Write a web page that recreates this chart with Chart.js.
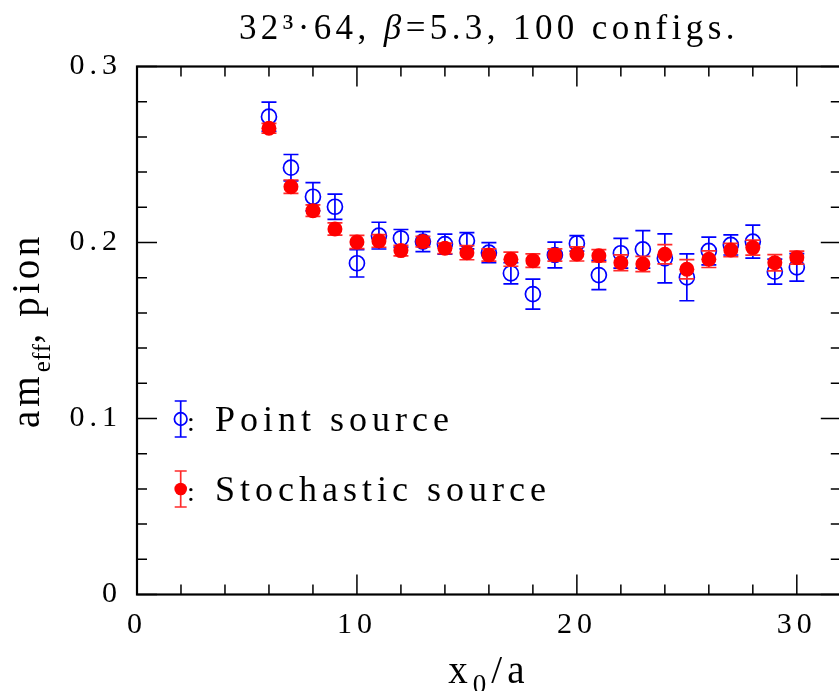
<!DOCTYPE html>
<html><head><meta charset="utf-8">
<script src="https://cdn.jsdelivr.net/npm/chart.js@4"></script>
<style>
html,body{margin:0;padding:0;overflow:hidden;background:#fff;}
#wrap{width:850px;height:691px;position:relative;}
</style>
</head><body>
<div id="wrap"><canvas id="c" width="850" height="691"></canvas></div>
<script>
// ---- data ----
const xValues = [6,7,8,9,10,11,12,13,14,15,16,17,18,19,20,21,22,23,24,25,26,27,28,29,30];
const pointSource = [0.2715,0.2425,0.2260,0.2203,0.1882,0.2039,0.2024,0.2005,0.1991,0.2010,0.1942,0.1825,0.1707,0.1929,0.1995,0.1815,0.1939,0.1961,0.1910,0.1802,0.1952,0.1986,0.2005,0.1834,0.1859];
const pointSourceErr = [0.0083,0.0075,0.0080,0.0072,0.0078,0.0076,0.0050,0.0057,0.0057,0.0046,0.0057,0.0060,0.0085,0.0073,0.0044,0.0083,0.0085,0.0107,0.0139,0.0133,0.0079,0.0057,0.0094,0.0071,0.0078];
const stochSource = [0.2649,0.2317,0.2181,0.2077,0.2003,0.2009,0.1954,0.2005,0.1967,0.1942,0.1929,0.1905,0.1897,0.1929,0.1935,0.1925,0.1885,0.1878,0.1933,0.1848,0.1905,0.1957,0.1971,0.1885,0.1914];
const stochSourceErr = [0.0028,0.0038,0.0033,0.0035,0.0038,0.0036,0.0030,0.0030,0.0030,0.0040,0.0035,0.0040,0.0038,0.0035,0.0040,0.0035,0.0045,0.0043,0.0055,0.0055,0.0047,0.0038,0.0043,0.0046,0.0037];
const xTickLabels = [0,10,20,30];
const yTickLabels = [0,0.1,0.2,0.3];
const xMinorStep = 2, yMinorStep = 0.02;
const seriesNames = ['Point source','Stochastic source'];
const titleParts = [['32³·64, ','normal'],['β','italic'],['=5.3, 100 configs.','normal']];

const FONT = 'Liberation Serif';
const LS = '5px';

// ---- plugins ----
const spacingPlugin = {
  id:'spacing',
  beforeLayout(chart){ chart.ctx.letterSpacing = LS; },
  beforeDraw(chart){ chart.ctx.letterSpacing = LS; }
};

const errorBarPlugin = {
  id:'errorBars',
  beforeDatasetDraw(chart, args){
    const ds = chart.data.datasets[args.index];
    if (!ds.errors) return;
    const ctx = chart.ctx, xs = chart.scales.x, ys = chart.scales.y;
    ctx.save();
    ctx.strokeStyle = ds.errorColor;
    ctx.lineWidth = 1.7;
    ds.data.forEach((p, i) => {
      const x = xs.getPixelForValue(p.x);
      const yt = ys.getPixelForValue(p.y + ds.errors[i]);
      const yb = ys.getPixelForValue(p.y - ds.errors[i]);
      ctx.beginPath();
      ctx.moveTo(x, yt); ctx.lineTo(x, yb);
      ctx.moveTo(x - 7.5, yt); ctx.lineTo(x + 7.5, yt);
      ctx.moveTo(x - 7.5, yb); ctx.lineTo(x + 7.5, yb);
      ctx.stroke();
    });
    ctx.restore();
  }
};

const framePlugin = {
  id:'frame',
  beforeDatasetsDraw(chart){
    const ctx = chart.ctx, a = chart.chartArea, xs = chart.scales.x, ys = chart.scales.y;
    ctx.save();
    ctx.strokeStyle = '#000';
    ctx.lineWidth = 1.5;
    ctx.beginPath();
    for (let v = xs.min; v <= xs.max + 1e-9; v += xMinorStep) {
      const px = xs.getPixelForValue(v);
      const major = Math.abs(v % 10) < 1e-9;
      const len = major ? 20 : 10;
      ctx.moveTo(px, a.bottom); ctx.lineTo(px, a.bottom - len);
      ctx.moveTo(px, a.top); ctx.lineTo(px, a.top + len);
    }
    for (let k = 0; k <= Math.round((ys.max - ys.min) / yMinorStep); k++) {
      const v = ys.min + k * yMinorStep;
      const py = ys.getPixelForValue(v);
      const major = k % 5 === 0;
      const len = major ? 20 : 10;
      ctx.moveTo(a.left, py); ctx.lineTo(a.left + len, py);
      ctx.moveTo(a.right, py); ctx.lineTo(a.right - len, py);
    }
    ctx.stroke();
    ctx.lineWidth = 2.2;
    ctx.strokeRect(a.left, a.top, a.right - a.left, a.bottom - a.top);
    ctx.restore();
  }
};

// runs: [text, font, dy, letterSpacing]
function drawRuns(ctx, runs, x, y) {
  let cx = x;
  runs.forEach(r => {
    ctx.font = r[1];
    ctx.letterSpacing = r[3];
    ctx.fillText(r[0], cx, y + (r[2] || 0));
    cx += ctx.measureText(r[0]).width;
  });
  return cx;
}
function runsWidth(ctx, runs) {
  let w = 0;
  runs.forEach(r => { ctx.font = r[1]; ctx.letterSpacing = r[3]; w += ctx.measureText(r[0]).width; });
  return w;
}

const textPlugin = {
  id:'texts',
  afterDraw(chart){
    const ctx = chart.ctx, a = chart.chartArea;
    const cx = (a.left + a.right) / 2;
    ctx.save();
    ctx.fillStyle = '#000';
    ctx.textBaseline = 'alphabetic';
    ctx.textAlign = 'left';

    // title
    const tRuns = titleParts.map(p => [p[0], (p[1] === 'italic' ? 'italic ' : '') + '35px "' + FONT + '"', 0, '4.4px']);
    let w = runsWidth(ctx, tRuns);
    drawRuns(ctx, tRuns, cx - w / 2, 38.5);

    // x axis title
    const xRuns = [['x', '39px "' + FONT + '"', 0, '5px'], ['0', '27px "' + FONT + '"', 10, '5px'], ['/a', '39px "' + FONT + '"', 0, '5px']];
    w = runsWidth(ctx, xRuns);
    drawRuns(ctx, xRuns, cx - w / 2, 683);

    // y axis title (rotated)
    const yRuns = [['am', '39px "' + FONT + '"', 0, '4px'], ['eff', '25px "' + FONT + '"', 11, '0.5px'], [', pion', '39px "' + FONT + '"', 0, '3.6px']];
    w = runsWidth(ctx, yRuns);
    ctx.save();
    ctx.translate(38.5, (a.top + a.bottom) / 2);
    ctx.rotate(-Math.PI / 2);
    drawRuns(ctx, yRuns, -w / 2, 0);
    ctx.restore();

    // legend
    const items = [
      {name: seriesNames[0], color: '#0000ff', filled: false, y: 419},
      {name: seriesNames[1], color: '#ff0000', filled: true, y: 489}
    ];
    items.forEach(it => {
      const mx = 180.7;
      ctx.strokeStyle = it.filled ? '#ff2a2a' : it.color;
      ctx.lineWidth = 1.7;
      ctx.beginPath();
      ctx.moveTo(mx, it.y - 18); ctx.lineTo(mx, it.y + 18);
      ctx.moveTo(mx - 6, it.y - 18); ctx.lineTo(mx + 6, it.y - 18);
      ctx.moveTo(mx - 6, it.y + 18); ctx.lineTo(mx + 6, it.y + 18);
      ctx.stroke();
      ctx.beginPath();
      ctx.arc(mx, it.y, 6.3, 0, Math.PI * 2);
      if (it.filled) { ctx.fillStyle = it.color; ctx.fill(); }
      else { ctx.strokeStyle = it.color; ctx.stroke(); }
      ctx.fillStyle = '#000';
      ctx.letterSpacing = '0px';
      ctx.font = '28px "' + FONT + '"';
      ctx.fillText(':', 187, it.y + 11.5);
      ctx.letterSpacing = '5px';
      ctx.font = '36px "' + FONT + '"';
      ctx.fillText(it.name, 215, it.y + 11.5);
    });
    ctx.restore();
  }
};

// ---- chart ----
const blueData = xValues.map((x, i) => ({x, y: pointSource[i]}));
const redData = xValues.map((x, i) => ({x, y: stochSource[i]}));

new Chart(document.getElementById('c'), {
  type: 'scatter',
  data: {
    datasets: [
      {
        label: seriesNames[0], data: blueData, errors: pointSourceErr, errorColor: '#0000ff',
        pointStyle: 'circle', pointRadius: 7.5, pointBorderWidth: 1.7,
        pointBorderColor: '#0000ff', pointBackgroundColor: 'rgba(0,0,0,0)', showLine: false, order: 2
      },
      {
        label: seriesNames[1], data: redData, errors: stochSourceErr, errorColor: '#ff2a2a',
        pointStyle: 'circle', pointRadius: 7.5, pointBorderWidth: 0,
        pointBorderColor: '#ff0000', pointBackgroundColor: '#ff0000', showLine: false, order: 1
      }
    ]
  },
  options: {
    responsive: false,
    animation: false,
    devicePixelRatio: 1,
    events: [],
    layout: { padding: { top: 66.5, right: 7, bottom: 0, left: 0 } },
    plugins: { legend: { display: false }, title: { display: false }, tooltip: { enabled: false } },
    scales: {
      x: {
        type: 'linear', min: 0, max: 32,
        afterBuildTicks: s => { s.ticks = xTickLabels.map(v => ({value: v})); },
        afterFit: s => { s.height = 96.5; },
        grid: { display: false, drawTicks: false },
        border: { display: false },
        ticks: { color: '#000', padding: 13, maxRotation: 0, font: { family: FONT, size: 30 },
                 callback: v => String(v) }
      },
      y: {
        type: 'linear', min: 0, max: 0.3,
        afterBuildTicks: s => { s.ticks = yTickLabels.map(v => ({value: v})); },
        afterFit: s => { s.width = 137; },
        grid: { display: false, drawTicks: false },
        border: { display: false },
        ticks: { color: '#000', padding: 15, font: { family: FONT, size: 30 },
                 callback: v => (v === 0 ? '0' : v.toFixed(1)) }
      }
    }
  },
  plugins: [spacingPlugin, framePlugin, errorBarPlugin, textPlugin]
});
</script>
</body></html>
